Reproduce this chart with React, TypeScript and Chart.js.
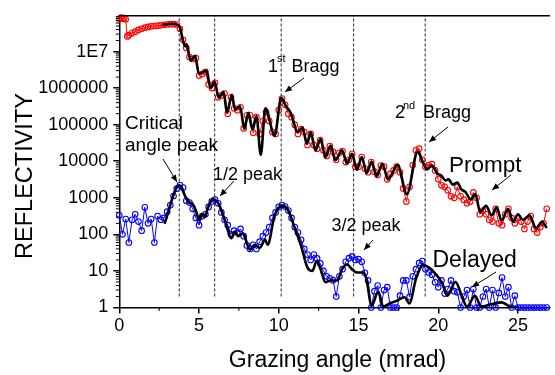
import React, { useEffect, useRef } from "react";
import { Chart, registerables } from "chart.js";

Chart.register(...registerables);

const FONT = "'Liberation Sans', Arial, Helvetica, sans-serif";

// Prompt reflectivity (red circles)
const promptX = [0, 0.1, 0.2, 0.3, 0.4, 0.5, 0.6, 0.8, 1.0, 1.2, 1.4, 1.6, 1.8, 2.0, 2.2, 2.4, 2.6, 2.8, 3.0, 3.2, 3.4, 3.6, 3.8, 4.0, 4.2, 4.4, 4.6, 4.8, 5.0, 5.2, 5.4, 5.6, 5.8, 6.0, 6.2, 6.4, 6.6, 6.8, 7.0, 7.2, 7.4, 7.6, 7.8, 8.0, 8.2, 8.4, 8.6, 8.8, 9.0, 9.2, 9.4, 9.6, 9.8, 10.0, 10.2, 10.4, 10.6, 10.8, 11.0, 11.2, 11.4, 11.6, 11.8, 12.0, 12.2, 12.4, 12.6, 12.8, 13.0, 13.2, 13.4, 13.6, 13.8, 14.0, 14.2, 14.4, 14.6, 14.8, 15.0, 15.2, 15.4, 15.6, 15.8, 16.0, 16.2, 16.4, 16.6, 16.8, 17.0, 17.2, 17.4, 17.6, 17.8, 18.0, 18.2, 18.4, 18.6, 18.8, 19.0, 19.2, 19.4, 19.6, 19.8, 20.0, 20.2, 20.4, 20.6, 20.8, 21.0, 21.2, 21.4, 21.6, 21.8, 22.0, 22.2, 22.4, 22.6, 22.8, 23.0, 23.2, 23.4, 23.6, 23.8, 24.0, 24.2, 24.4, 24.6, 24.8, 25.0, 25.2, 25.4, 25.6, 25.8, 26.0, 26.2, 26.4, 26.6, 26.8];
const promptY = [7.9e7, 8.5e7, 7.9e7, 8.3e7, 7.6e7, 2.6e7, 2.8e7, 3.2e7, 3.5e7, 3.9e7, 4.2e7, 4.5e7, 4.7e7, 4.9e7, 5.0e7, 5.1e7, 5.2e7, 5.4e7, 5.5e7, 5.6e7, 5.6e7, 5.5e7, 4.2e7, 2.1e7, 1.26e7, 7.1e6, 6.3e6, 6.6e6, 2.2e6, 2.4e6, 2.8e6, 1.26e6, 1.0e6, 1.4e6, 5.6e5, 6.3e5, 7.1e5, 2.0e5, 5.6e5, 2.8e5, 2.5e5, 3.0e5, 7.9e4, 1.8e5, 1.8e5, 6.0e4, 1.6e5, 5.6e4, 1.26e5, 2.2e5, 1.26e5, 6.3e4, 5.6e4, 2.5e5, 5.2e5, 3.5e5, 2.0e5, 1.6e5, 1.0e5, 5.6e4, 7.6e4, 6.3e4, 2.8e4, 5.6e4, 2.8e4, 2.2e4, 3.8e4, 2.0e4, 1.4e4, 2.6e4, 1.8e4, 1.1e4, 1.7e4, 1.9e4, 9.5e3, 1.1e4, 1.6e4, 7.1e3, 7.1e3, 1.3e4, 6.3e3, 5.0e3, 9.5e3, 5.2e3, 4.2e3, 7.6e3, 7.1e3, 3.2e3, 4.5e3, 5.6e3, 7.1e3, 5.0e3, 1.8e3, 7.9e2, 2.0e3, 7.9e3, 2.0e4, 2.2e4, 1.1e4, 7.1e3, 7.9e3, 8.3e3, 5.6e3, 3.2e3, 2.2e3, 2.0e3, 1.6e3, 1.1e3, 1.0e3, 2.0e3, 1.1e3, 890, 710, 790, 1.4e3, 1.0e3, 355, 447, 355, 251, 224, 501, 200, 178, 355, 501, 282, 200, 282, 224, 141, 224, 316, 141, 112, 158, 200, 501];

// Prompt fit (black line)
const promptFitX = [2.7, 3.0, 3.3, 3.6, 3.8, 4.0, 4.13, 4.21, 4.48, 4.75, 4.99, 5.47, 5.72, 5.98, 6.23, 6.54, 6.75, 7.06, 7.26, 7.57, 7.84, 8.09, 8.34, 8.6, 8.87, 9.16, 9.74, 10.15, 10.45, 10.77, 10.95, 11.15, 11.49, 11.76, 12.0, 12.3, 12.62, 12.93, 13.24, 13.55, 13.97, 14.28, 14.59, 14.9, 15.2, 15.51, 15.82, 16.13, 16.5, 16.85, 17.45, 18.03, 18.71, 19.02, 19.3, 19.6, 19.95, 20.2, 20.45, 20.65, 20.9, 21.19, 21.45, 21.7, 22.05, 22.32, 22.63, 23.0, 23.35, 23.66, 23.97, 24.38, 24.69, 25.0, 25.3, 25.72, 26.14, 26.5, 26.8];
const promptFitY = [5.4e7, 5.6e7, 5.75e7, 5.5e7, 4.6e7, 1.95e7, 1.4e7, 1.6e7, 5.6e6, 7.6e6, 2.5e6, 3.0e6, 1.0e6, 1.5e6, 5.5e5, 7.9e5, 2.1e5, 6.6e5, 2.6e5, 3.2e5, 7.6e4, 2.1e5, 7.6e4, 1.7e5, 1.5e4, 2.8e5, 5.0e4, 5.4e5, 3.2e5, 2.0e5, 1.1e5, 6.3e4, 8.3e4, 3.0e4, 6.2e4, 2.0e4, 4.1e4, 1.3e4, 2.7e4, 1.07e4, 2.0e4, 8.7e3, 1.6e4, 5.8e3, 1.3e4, 4.8e3, 9.8e3, 3.9e3, 8.5e3, 3.2e3, 7.9e3, 1.26e3, 1.8e4, 9.8e3, 6.0e3, 7.6e3, 4.6e3, 4.0e3, 3.0e3, 3.2e3, 2.3e3, 2.6e3, 1.7e3, 1.45e3, 890, 1.26e3, 410, 600, 330, 550, 240, 500, 220, 355, 250, 330, 145, 220, 150];

// Delayed reflectivity (blue circles)
const delayedX = [0, 0.2, 0.4, 0.6, 0.8, 1.0, 1.2, 1.4, 1.6, 1.8, 2.0, 2.2, 2.4, 2.6, 2.8, 3.0, 3.2, 3.4, 3.6, 3.8, 4.0, 4.2, 4.4, 4.6, 4.8, 5.0, 5.2, 5.4, 5.6, 5.8, 6.0, 6.2, 6.4, 6.6, 6.8, 7.0, 7.2, 7.4, 7.6, 7.8, 8.0, 8.2, 8.4, 8.6, 8.8, 9.0, 9.2, 9.4, 9.6, 9.8, 10.0, 10.2, 10.4, 10.6, 10.8, 11.0, 11.2, 11.4, 11.6, 11.8, 12.0, 12.2, 12.4, 12.6, 12.8, 13.0, 13.2, 13.4, 13.6, 13.8, 14.0, 14.2, 14.4, 14.6, 14.8, 15.0, 15.2, 15.4, 15.6, 15.8, 16.0, 16.2, 16.4, 16.6, 16.8, 17.0, 17.2, 17.4, 17.6, 17.8, 18.0, 18.2, 18.4, 18.6, 18.8, 19.0, 19.2, 19.4, 19.6, 19.8, 20.0, 20.2, 20.4, 20.6, 20.8, 21.0, 21.2, 21.4, 21.6, 21.8, 22.0, 22.2, 22.4, 22.6, 22.8, 23.0, 23.2, 23.4, 23.6, 23.8, 24.0, 24.2, 24.4, 24.6, 24.8, 25.0, 25.2, 25.4, 25.6, 25.8, 26.0, 26.2, 26.4, 26.6, 26.8];
const delayedY = [331, 100, 263, 60, 251, 355, 224, 126, 550, 200, 263, 60, 316, 251, 282, 417, 631, 1120, 1780, 2240, 1900, 832, 741, 501, 282, 178, 316, 355, 562, 794, 891, 708, 398, 251, 178, 100, 126, 112, 141, 89, 50, 40, 52, 40, 63, 89, 112, 158, 282, 398, 562, 631, 575, 447, 282, 158, 112, 71, 40, 28, 20, 28, 22, 16, 10, 7.1, 6.3, 5.6, 2.0, 7.1, 11.2, 17.8, 22.4, 25, 20, 21, 17.8, 8.9, 5.5, 1, 2.8, 4.0, 1, 3.0, 3.6, 1, 1, 1, 2.1, 5.5, 5.5, 1.95, 7.1, 11.2, 16.6, 18.6, 11.2, 9.1, 7.9, 4.9, 3.6, 5.5, 2.4, 3.2, 5.5, 2.8, 2.6, 1, 2.0, 3.0, 1, 3.2, 1, 1, 2.0, 3.2, 1, 3.0, 1, 2.5, 6.6, 2.0, 3.6, 1, 2.1, 1, 1, 1, 1, 1, 1, 1, 1, 1, 1];

// Delayed fit (black line)
const delayedFitX = [2.83, 3.76, 4.17, 4.4, 4.58, 4.83, 5.0, 5.2, 5.37, 5.55, 5.86, 6.23, 6.65, 7.02, 7.26, 7.45, 7.75, 8.19, 8.5, 8.81, 9.15, 9.3, 9.74, 10.2, 10.56, 10.98, 11.39, 11.8, 12.1, 12.38, 12.62, 12.93, 13.24, 13.66, 13.97, 14.28, 14.59, 14.9, 15.31, 15.51, 15.82, 16.24, 16.55, 16.9, 17.37, 17.88, 18.19, 18.6, 19.05, 19.43, 19.85, 20.26, 20.57, 21.08, 21.5, 21.8, 22.3, 22.7, 23.14, 23.97, 24.6, 25.0];
const delayedFitY = [195, 2200, 1020, 740, 690, 410, 240, 360, 295, 525, 910, 680, 220, 78, 117, 89, 107, 38, 52, 43, 71, 52, 330, 600, 480, 160, 50, 12.3, 10, 18.6, 11.2, 4.9, 5.5, 5.5, 11.2, 15, 11.2, 9.1, 9.1, 5.5, 1.12, 2.75, 1.05, 1.26, 1.5, 1.9, 1.3, 6.0, 14.5, 12.3, 8.1, 4.5, 2.1, 5.0, 1.95, 1.05, 2.1, 1.05, 1.17, 1.38, 1.02, 1.0];

// Vertical dashed marker lines
const markerX = [3.76, 5.98, 10.15, 14.69, 19.18];
const markerFrom = 2;
const markerTo = 9.5e7;

// Axes
const xMin = 0;
const xMax = 27;
const yMin = 1;
const yMax = 9.5e7;
const xTicks = [0, 5, 10, 15, 20, 25];
const xMinorTicks = [2.5, 7.5, 12.5, 17.5, 22.5];
const yTicks = [1, 10, 100, 1000, 10000, 100000, 1000000, 10000000];
const yTickLabels = ["1", "10", "100", "1000", "10000", "100000", "1000000", "1E7"];

const pts = (xs: number[], ys: number[]) => xs.map((x, i) => ({ x, y: ys[i] }));

function drawArrow(ctx: CanvasRenderingContext2D, x1: number, y1: number, x2: number, y2: number) {
  ctx.beginPath();
  ctx.moveTo(x1, y1);
  ctx.lineTo(x2, y2);
  ctx.stroke();
  const a = Math.atan2(y2 - y1, x2 - x1);
  const L = 7, W = 3;
  ctx.beginPath();
  ctx.moveTo(x2, y2);
  ctx.lineTo(x2 - L * Math.cos(a) + W * Math.sin(a), y2 - L * Math.sin(a) - W * Math.cos(a));
  ctx.lineTo(x2 - L * Math.cos(a) - W * Math.sin(a), y2 - L * Math.sin(a) + W * Math.cos(a));
  ctx.closePath();
  ctx.fill();
}

const overlay = {
  id: "overlay",
  afterDraw(chart: any) {
    const { ctx, chartArea } = chart;
    const xs = chart.scales.x;
    const ys = chart.scales.y;
    ctx.save();
    ctx.strokeStyle = "#000";
    ctx.fillStyle = "#000";
    // top frame
    ctx.lineWidth = 1.5;
    ctx.beginPath();
    ctx.moveTo(chartArea.left, chartArea.top);
    ctx.lineTo(chartArea.right, chartArea.top);
    ctx.stroke();
    // minor ticks
    ctx.lineWidth = 1;
    ctx.beginPath();
    for (const v of xMinorTicks) {
      const px = xs.getPixelForValue(v);
      ctx.moveTo(px, chartArea.bottom);
      ctx.lineTo(px, chartArea.bottom + 3.5);
    }
    for (let d = 0; d < 8; d++) {
      for (let m = 2; m < 10; m++) {
        const v = m * Math.pow(10, d);
        if (v > yMax) continue;
        const py = ys.getPixelForValue(v);
        ctx.moveTo(chartArea.left - 3.5, py);
        ctx.lineTo(chartArea.left, py);
      }
    }
    ctx.stroke();

    // axis titles
    ctx.textBaseline = "alphabetic";
    ctx.font = `23px ${FONT}`;
    ctx.textAlign = "center";
    ctx.fillText("Grazing angle (mrad)", 337.5, 367);
    ctx.save();
    ctx.translate(32, 176);
    ctx.rotate(-Math.PI / 2);
    ctx.font = `23.5px ${FONT}`;
    ctx.fillText("REFLECTIVITY", 0, 0);
    ctx.restore();

    // annotations
    ctx.textAlign = "left";
    const notes = [
      { t: "Critical", x: 125, y: 129, s: 19 },
      { t: "angle peak", x: 125, y: 150.5, s: 19 },
      { t: "1/2 peak", x: 213, y: 180, s: 18 },
      { t: "3/2 peak", x: 331.5, y: 231, s: 18 },
      { t: "Prompt", x: 449, y: 172, s: 22.5 },
      { t: "Delayed", x: 432.5, y: 266.5, s: 23 },
      { t: "1", x: 268, y: 71.7, s: 18 },
      { t: "st", x: 277, y: 62, s: 11 },
      { t: "Bragg", x: 291.5, y: 71.7, s: 18 },
      { t: "2", x: 395, y: 118, s: 18 },
      { t: "nd", x: 403, y: 109, s: 11 },
      { t: "Bragg", x: 423, y: 118, s: 18 },
    ];
    for (const n of notes) {
      ctx.font = `${n.s}px ${FONT}`;
      ctx.fillText(n.t, n.x, n.y);
    }
    ctx.lineWidth = 1;
    drawArrow(ctx, 163, 159, 177, 182);
    drawArrow(ctx, 234, 181, 220, 196);
    drawArrow(ctx, 304, 78, 285, 92);
    drawArrow(ctx, 448, 127, 429, 142);
    drawArrow(ctx, 511, 175, 492, 190);
    drawArrow(ctx, 373, 240, 364, 250);
    drawArrow(ctx, 496, 272, 472, 287);
    ctx.restore();
  },
};

export default function App() {
  const ref = useRef<HTMLCanvasElement | null>(null);

  useEffect(() => {
    if (!ref.current) return;
    Chart.defaults.font.family = FONT;
    const markerSets = markerX.map((mx) => ({
      type: "line" as const,
      data: [
        { x: mx, y: markerFrom },
        { x: mx, y: markerTo },
      ],
      borderColor: "#222",
      borderWidth: 1,
      borderDash: [3, 2],
      pointRadius: 0,
      order: 3,
    }));
    const chart = new Chart(ref.current, {
      type: "line",
      data: {
        datasets: [
          {
            label: "Prompt fit",
            data: pts(promptFitX, promptFitY),
            borderColor: "#000",
            borderWidth: 2.6,
            pointRadius: 0,
            cubicInterpolationMode: "monotone",
            order: 0,
          },
          {
            label: "Delayed fit",
            data: pts(delayedFitX, delayedFitY),
            borderColor: "#000",
            borderWidth: 2.6,
            pointRadius: 0,
            cubicInterpolationMode: "monotone",
            order: 0,
          },
          {
            label: "Prompt",
            data: pts(promptX, promptY),
            borderColor: "#ff0000",
            borderWidth: 1,
            pointRadius: 2.8,
            pointBorderWidth: 1.1,
            pointBorderColor: "#ff0000",
            pointBackgroundColor: "rgba(255,255,255,0)",
            clip: false,
            order: 1,
          },
          {
            label: "Delayed",
            data: pts(delayedX, delayedY),
            borderColor: "#0000ff",
            borderWidth: 1,
            pointRadius: 2.8,
            pointBorderWidth: 1.1,
            pointBorderColor: "#0000ff",
            pointBackgroundColor: "rgba(255,255,255,0)",
            clip: false,
            order: 1,
          },
          ...markerSets,
        ] as any,
      },
      options: {
        animation: false,
        responsive: false,
        maintainAspectRatio: false,
        devicePixelRatio: 1,
        layout: { padding: { top: 10, right: 0, left: 0, bottom: 0 } },
        plugins: {
          legend: { display: false },
          tooltip: { enabled: false },
          title: { display: false },
        },
        scales: {
          x: {
            type: "linear",
            position: "bottom",
            min: xMin,
            max: xMax,
            afterBuildTicks: (s: any) => {
              s.ticks = xTicks.map((v) => ({ value: v }));
            },
            afterFit: (s: any) => {
              s.height = 67.5;
            },
            ticks: {
              color: "#000",
              font: { size: 18, family: FONT },
              padding: 2,
              maxRotation: 0,
              autoSkip: false,
              callback: (v: any) => String(v),
            },
            grid: {
              drawOnChartArea: false,
              drawTicks: true,
              tickLength: 6,
              color: "#000",
              lineWidth: 1.5,
            },
            border: { display: true, color: "#000", width: 1.5 },
          },
          y: {
            type: "logarithmic",
            position: "left",
            min: yMin,
            max: yMax,
            afterBuildTicks: (s: any) => {
              s.ticks = yTicks.map((v) => ({ value: v }));
            },
            afterFit: (s: any) => {
              s.width = 119.3;
            },
            ticks: {
              color: "#000",
              font: { size: 18, family: FONT },
              padding: 5,
              autoSkip: false,
              callback: (v: any) => {
                const i = yTicks.indexOf(Number(v));
                return i >= 0 ? yTickLabels[i] : "";
              },
            },
            grid: {
              drawOnChartArea: false,
              drawTicks: true,
              tickLength: 6,
              color: "#000",
              lineWidth: 1.5,
            },
            border: { display: true, color: "#000", width: 1.5 },
          },
        },
      } as any,
      plugins: [overlay],
    });
    return () => chart.destroy();
  }, []);

  return (
    <div style={{ position: "absolute", left: 0, top: 0, width: 555, height: 375, background: "#fff" }}>
      <canvas ref={ref} width={555} height={375} style={{ width: 555, height: 375, display: "block" }} />
    </div>
  );
}
